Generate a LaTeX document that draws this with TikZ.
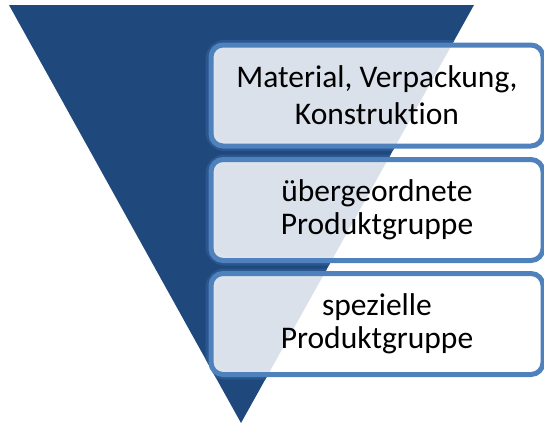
\documentclass[tikz,border=0pt]{standalone}
\usepackage{fontspec}
\setmainfont[Ligatures=NoCommon]{Carlito}
\definecolor{tridark}{HTML}{1F497D}
\definecolor{boxblue}{HTML}{4F81BD}
\definecolor{glowblue}{HTML}{2B5790}
\begin{document}
\begin{tikzpicture}[x=1pt,y=-1pt,
  levelbox/.style={rectangle, rounded corners=12pt, draw=boxblue, line width=5pt,
    fill=white, fill opacity=0.84, text opacity=1, minimum width=332pt, minimum height=101pt,
    align=center, inner sep=0pt, font=\fontsize{31.5}{33}\selectfont},
  glow/.style={rectangle, rounded corners=14pt, draw=glowblue, line width=10pt,
    minimum width=332pt, minimum height=101pt, inner sep=0pt}]
\useasboundingbox (0,0) rectangle (544,423);
\fill[tridark] (9,5) -- (474,5) -- (241,423) -- cycle;
\begin{scope}
\clip (9,5) -- (474,5) -- (241,423) -- cycle;
\node[glow] (g1) at (376.5,95.5) {};
\node[glow] (g2) at (376.5,210) {};
\node[glow] (g3) at (376.5,324) {};
\end{scope}
\node[levelbox, font=\fontsize{31.5}{37}\selectfont] (b1) at (377,95.5) {Material, Verpackung,\\Konstruktion};
\node[levelbox] (b2) at (377,210) {übergeordnete\\Produktgruppe};
\node[levelbox] (b3) at (377,324) {spezielle\\Produktgruppe};
\end{tikzpicture}
\end{document}
